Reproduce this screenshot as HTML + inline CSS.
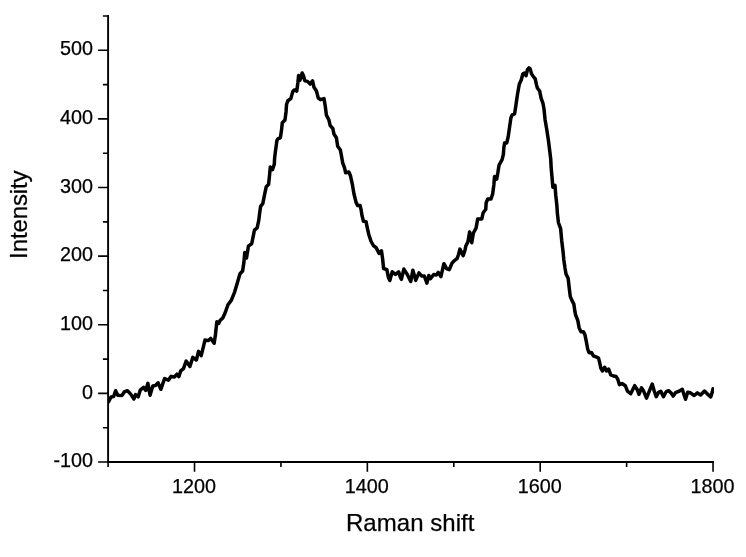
<!DOCTYPE html>
<html lang="en">
<head>
<meta charset="utf-8">
<title>Raman shift vs Intensity</title>
<style>
html,body{margin:0;padding:0;background:#fff;}
body{width:746px;height:557px;overflow:hidden;font-family:"Liberation Sans",Arial,sans-serif;}
svg{display:block;}
.ax path{stroke:#000;stroke-width:1.9;fill:none;stroke-linecap:butt;}
.ax path.tk{stroke-width:1.6;}
.tl text{font-family:"Liberation Sans",Arial,sans-serif;font-size:19.8px;fill:#000;stroke:#000;stroke-width:0.25px;}
.at text{font-family:"Liberation Sans",Arial,sans-serif;font-size:24px;fill:#000;stroke:#000;stroke-width:0.25px;}
.curve{stroke:#000;stroke-width:3.5;fill:none;stroke-linejoin:round;stroke-linecap:round;}
</style>
</head>
<body>
<svg width="746" height="557" viewBox="0 0 746 557" role="img" aria-label="Raman spectrum">
<rect x="0" y="0" width="746" height="557" fill="#ffffff"/>
<g class="ax">
<path d="M108.1 15.05 V462.95" />
<path d="M107.14999999999999 462.0 H714.0" />
<path class="tk" d="M108.1 462.00 h-10.0 M108.1 427.69 h-5.2 M108.1 393.38 h-10.0 M108.1 359.08 h-5.2 M108.1 324.77 h-10.0 M108.1 290.46 h-5.2 M108.1 256.15 h-10.0 M108.1 221.85 h-5.2 M108.1 187.54 h-10.0 M108.1 153.23 h-5.2 M108.1 118.92 h-10.0 M108.1 84.62 h-5.2 M108.1 50.31 h-10.0 M108.1 16.00 h-5.2 M108.10 462.0 v5.0 M194.52 462.0 v9.8 M280.94 462.0 v5.0 M367.36 462.0 v9.8 M453.79 462.0 v5.0 M540.21 462.0 v9.8 M626.63 462.0 v5.0 M713.05 462.0 v9.8" />
</g>
<g class="tl">
<text x="93.1" y="467.1" text-anchor="end">-100</text>
<text x="93.1" y="399.2" text-anchor="end">0</text>
<text x="93.1" y="330.0" text-anchor="end">100</text>
<text x="93.1" y="261.2" text-anchor="end">200</text>
<text x="93.1" y="193.0" text-anchor="end">300</text>
<text x="93.1" y="124.1" text-anchor="end">400</text>
<text x="93.1" y="55.2" text-anchor="end">500</text>
<text x="194.02" y="493.2" text-anchor="middle">1200</text>
<text x="366.86" y="493.2" text-anchor="middle">1400</text>
<text x="539.71" y="493.2" text-anchor="middle">1600</text>
<text x="712.55" y="493.2" text-anchor="middle">1800</text>
</g>
<g class="at">
<text x="346.0" y="531" letter-spacing="0.04">Raman shift</text>
<text transform="translate(27.3 258.9) rotate(-90)" letter-spacing="-0.12">Intensity</text>
</g>
<defs><clipPath id="plotclip"><rect x="108.1" y="10" width="605.85" height="452"/></clipPath></defs>
<g clip-path="url(#plotclip)"><path class="curve" d="M108.40 401.90 L111.09 396.94 L113.67 396.51 L115.61 390.70 L117.77 395.22 L122.07 395.44 L124.23 391.99 L127.46 390.70 L130.69 394.15 L133.92 398.99 L135.53 394.68 L138.22 396.84 L140.38 389.84 L143.61 387.47 L145.76 390.38 L147.91 383.38 L150.07 395.22 L152.76 386.07 L155.45 385.53 L158.14 382.84 L160.83 389.30 L164.60 378.53 L168.37 380.15 L171.06 376.38 L174.29 376.92 L176.99 374.23 L178.83 376.68 L180.77 370.76 L183.46 368.61 L186.15 361.07 L189.92 366.45 L192.83 357.30 L196.38 359.99 L198.53 351.38 L201.22 355.69 L204.99 340.07 L208.22 340.61 L210.70 338.46 L214.15 343.30 L215.44 334.69 L216.84 321.68 L218.78 323.30 L220.07 320.61 L222.77 317.91 L225.46 311.99 L227.83 304.99 L231.38 300.15 L234.61 292.07 L237.30 282.92 L239.99 273.77 L242.61 270.99 L243.90 262.38 L244.76 252.47 L246.49 258.07 L248.43 246.22 L251.76 243.53 L254.45 230.07 L257.15 227.92 L258.76 220.38 L259.55 213.84 L260.63 206.30 L262.78 203.61 L264.61 194.45 L266.22 186.92 L268.59 184.23 L269.45 176.15 L270.32 167.00 L272.47 169.69 L274.30 164.31 L274.55 158.84 L275.30 152.38 L276.92 140.53 L278.21 138.59 L280.36 137.84 L281.44 130.84 L282.30 122.77 L284.99 120.07 L286.07 111.46 L286.53 104.53 L287.83 100.76 L290.84 98.61 L292.78 91.61 L294.07 89.99 L296.76 91.07 L297.84 82.99 L298.59 75.46 L299.99 80.30 L302.15 72.98 L303.55 76.00 L304.84 80.84 L307.53 81.38 L310.22 84.07 L312.59 80.84 L313.99 87.30 L316.47 91.07 L318.30 98.07 L320.45 99.68 L324.00 98.61 L325.30 106.46 L326.38 115.07 L328.86 119.92 L330.15 125.30 L332.84 128.53 L333.92 133.92 L336.39 137.69 L337.69 146.30 L340.38 150.07 L341.32 155.00 L342.61 162.54 L344.55 167.92 L345.63 172.77 L348.86 172.01 L350.36 175.46 L352.30 184.07 L353.92 193.76 L356.07 202.38 L357.69 205.61 L360.05 205.39 L361.13 209.91 L362.07 215.92 L363.47 221.31 L366.06 221.63 L367.13 227.23 L368.86 234.76 L371.01 241.22 L373.38 245.53 L376.07 247.69 L377.15 249.69 L379.09 253.46 L381.46 250.77 L382.54 258.30 L383.61 268.53 L386.84 269.61 L388.46 277.69 L389.86 280.38 L392.23 271.76 L395.46 274.45 L398.69 271.76 L400.30 277.15 L401.38 279.30 L403.86 269.07 L407.30 274.45 L410.75 281.45 L412.90 270.15 L415.70 280.38 L418.93 272.84 L421.84 276.07 L424.31 276.07 L426.90 283.07 L428.84 275.53 L430.45 278.76 L433.68 274.45 L436.37 274.99 L438.31 272.30 L440.90 276.61 L443.91 263.69 L446.60 268.53 L449.29 269.61 L451.99 263.15 L454.00 260.99 L457.23 258.30 L458.52 254.53 L459.92 249.15 L463.15 255.61 L464.98 250.22 L465.84 245.92 L467.99 241.61 L469.61 231.92 L471.76 242.69 L473.38 232.99 L476.07 228.15 L477.69 219.00 L481.78 219.00 L483.07 213.08 L485.76 209.31 L486.15 202.76 L487.77 198.99 L491.00 198.99 L492.61 194.15 L493.90 184.45 L494.55 176.38 L496.70 179.07 L497.78 173.15 L499.07 165.07 L502.09 159.69 L503.38 154.31 L503.84 147.76 L504.60 142.91 L506.75 142.91 L508.15 136.99 L509.55 127.30 L510.84 118.15 L512.13 114.92 L514.61 113.84 L515.69 106.84 L516.76 99.31 L517.46 94.53 L519.29 84.30 L521.22 79.99 L522.84 74.07 L524.45 72.99 L526.07 75.69 L527.47 69.55 L528.98 67.83 L530.16 68.90 L531.45 73.53 L533.07 76.22 L535.22 78.92 L536.51 84.84 L537.38 88.07 L539.74 91.30 L541.14 98.30 L542.93 103.08 L544.00 109.00 L545.08 119.76 L546.91 130.53 L548.53 141.30 L550.69 158.61 L551.22 168.30 L552.09 177.99 L552.84 187.15 L554.99 185.32 L555.75 195.22 L556.82 204.91 L557.40 213.61 L558.47 222.77 L560.63 228.69 L561.70 240.53 L562.99 251.30 L563.84 260.00 L564.92 267.54 L566.00 274.00 L568.15 278.30 L569.23 287.99 L570.30 296.61 L571.92 300.38 L573.86 304.15 L574.93 311.68 L575.61 315.00 L577.77 320.38 L579.17 327.92 L581.00 331.69 L583.47 331.69 L584.98 334.92 L586.38 341.92 L587.78 349.45 L589.07 352.69 L591.44 352.47 L593.38 355.92 L596.61 357.21 L598.55 358.07 L599.62 362.38 L600.92 368.30 L602.53 370.99 L604.68 367.22 L606.51 370.99 L608.61 369.00 L610.77 374.92 L613.46 376.00 L616.15 376.53 L617.77 379.23 L619.38 384.61 L622.07 383.53 L625.30 385.69 L627.46 391.07 L630.69 393.76 L632.30 390.53 L634.67 385.69 L637.15 389.45 L638.98 394.30 L641.45 387.84 L643.61 391.07 L646.51 398.07 L649.53 390.53 L652.22 384.07 L654.31 391.22 L656.24 396.61 L658.61 392.30 L660.77 391.22 L663.46 396.61 L666.15 391.76 L668.52 390.69 L671.00 392.84 L673.15 396.07 L675.84 392.30 L679.07 391.22 L682.30 389.29 L683.92 394.45 L685.53 399.30 L687.69 392.30 L690.38 392.84 L694.15 395.53 L697.38 392.84 L700.61 394.99 L704.48 391.01 L708.14 394.67 L710.73 396.93 L712.23 392.30 L712.99 388.86"/></g>
</svg>
</body>
</html>
